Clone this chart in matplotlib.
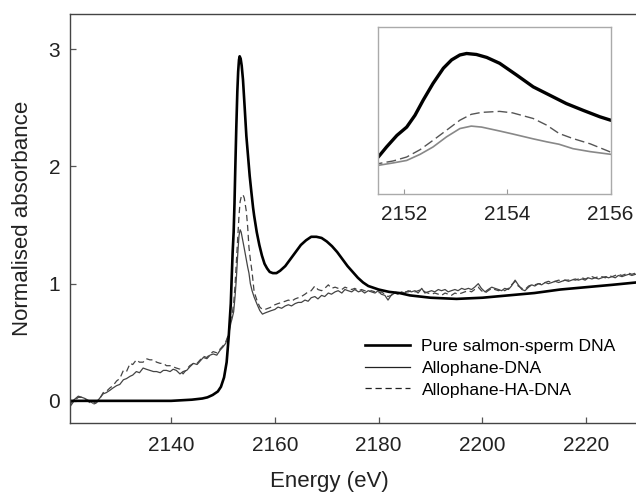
import matplotlib
matplotlib.use("Agg")
import matplotlib.pyplot as plt

plt.rcParams["font.family"] = ["Liberation Sans", "DejaVu Sans"]

# Pure salmon-sperm DNA (smooth curve)
dna_energy = [2120.5, 2130, 2140, 2144, 2146, 2147, 2148, 2149, 2149.6, 2150.2,
              2150.7, 2151.1,
              2151.5, 2151.66, 2151.86, 2152.05, 2152.21, 2152.37, 2152.56, 2152.76,
              2152.92, 2153.08, 2153.21, 2153.4, 2153.6, 2153.85, 2154.18, 2154.5,
              2154.82, 2155.14, 2155.47, 2155.79, 2156.0,
              2156.5, 2157.0, 2157.5, 2158.0, 2158.5, 2159.0, 2159.6, 2160.3,
              2161.0, 2162.0, 2163.0, 2164.0, 2165.0, 2166.0, 2167.0, 2168.0,
              2169.0, 2170.0, 2171.0, 2172.0, 2173.0, 2174.0, 2175.0, 2176.0,
              2177.0, 2178.0, 2180.0, 2182.0, 2184.0, 2186.0, 2190.0, 2195.0,
              2200.0, 2205.0, 2210.0, 2215.0, 2220.0, 2225.0, 2229.6]
dna_abs = [0.0, 0.0, 0.0, 0.01, 0.02, 0.03, 0.05, 0.08, 0.12, 0.2,
           0.33, 0.55,
           0.83, 1.035, 1.27, 1.44, 1.68, 1.99, 2.33, 2.64,
           2.81, 2.91, 2.94, 2.92, 2.86, 2.74, 2.50, 2.26,
           2.09, 1.92, 1.78, 1.65, 1.58,
           1.44, 1.33, 1.24, 1.17, 1.13, 1.10, 1.09, 1.09,
           1.11, 1.15, 1.21, 1.27, 1.33, 1.37, 1.40, 1.40,
           1.39, 1.36, 1.32, 1.27, 1.21, 1.15, 1.10, 1.05,
           1.01, 0.98, 0.95, 0.93, 0.92, 0.90, 0.88, 0.87,
           0.88, 0.90, 0.92, 0.95, 0.97, 0.99, 1.01]

# Allophane samples (noisy curves, shared energy grid)
allo_energy = [
    2120.5, 2121.3, 2122.1, 2122.8, 2123.4, 2124.2, 2124.9, 2125.5, 2126.0, 2126.9,
    2127.5, 2128.2, 2128.8, 2129.5, 2130.1, 2130.8, 2131.4, 2132.1, 2132.6, 2133.3,
    2133.9, 2134.6, 2135.2, 2135.9, 2136.6, 2137.2, 2137.9, 2138.5, 2139.1, 2139.8,
    2140.4, 2141.0, 2141.7, 2142.3, 2143.0, 2143.6, 2144.3, 2145.0, 2145.6, 2146.2,
    2146.9, 2147.5, 2148.1, 2148.8, 2149.4, 2150.0, 2150.5, 2151.0,
    2151.5, 2151.79, 2152.05, 2152.31, 2152.56, 2152.82, 2153.08, 2153.3, 2153.5,
    2153.85, 2154.1, 2154.5, 2154.76, 2155.0, 2155.27, 2155.6, 2156.0,
    2156.6, 2157.1, 2157.6, 2158.1,
    2158.7, 2159.3, 2160.0, 2160.6, 2161.3, 2162.0, 2162.6, 2163.2, 2163.9, 2164.5,
    2165.1, 2165.8, 2166.4, 2167.0, 2167.7, 2168.3, 2169.0, 2169.6, 2170.3, 2170.9,
    2171.6, 2172.2, 2172.9, 2173.5, 2174.1, 2174.8, 2175.4, 2176.1, 2176.7, 2177.3,
    2178.0, 2178.6, 2179.3, 2179.9, 2180.5, 2181.2, 2181.8, 2182.4, 2183.1, 2183.7,
    2184.4, 2185.0, 2185.7, 2186.3, 2187.0, 2187.6, 2188.3, 2188.9, 2189.5, 2190.2,
    2190.8, 2191.5, 2192.1, 2192.8, 2193.4, 2194.0, 2194.7, 2195.3, 2196.0, 2196.6,
    2197.3, 2197.9, 2198.5, 2199.2, 2199.8, 2200.5, 2201.1, 2201.8, 2202.4, 2203.1,
    2203.7, 2204.3, 2205.0, 2205.6, 2206.3, 2206.9, 2207.6, 2208.2, 2208.9, 2209.5,
    2210.1, 2210.8, 2211.4, 2212.1, 2212.7, 2213.4, 2214.0, 2214.7, 2215.3, 2215.9,
    2216.6, 2217.2, 2217.9, 2218.5, 2219.2, 2219.8, 2220.4, 2221.1, 2221.7, 2222.4,
    2223.0, 2223.7, 2224.3, 2225.0, 2225.6, 2226.2, 2226.9, 2227.5, 2228.2, 2228.8,
    2229.5]
allo_dna = [
    -0.03, 0.01, 0.04, 0.03, 0.02, 0.00, -0.02, -0.01, 0.01, 0.06,
    0.07, 0.09, 0.11, 0.13, 0.14, 0.18, 0.19, 0.21, 0.22, 0.25,
    0.24, 0.28, 0.27, 0.26, 0.25, 0.25, 0.24, 0.26, 0.26, 0.25,
    0.27, 0.26, 0.23, 0.25, 0.26, 0.29, 0.32, 0.31, 0.34, 0.37,
    0.36, 0.39, 0.40, 0.39, 0.43, 0.46, 0.49, 0.55,
    0.66, 0.71, 0.76, 0.885, 1.035, 1.24, 1.41, 1.46, 1.44,
    1.36, 1.30, 1.20, 1.14, 1.09, 1.00, 0.94, 0.885,
    0.82, 0.77, 0.74, 0.75,
    0.76, 0.77, 0.78, 0.80, 0.79, 0.81, 0.82, 0.81, 0.83, 0.84,
    0.84, 0.86, 0.85, 0.88, 0.89, 0.87, 0.90, 0.89, 0.92, 0.91,
    0.93, 0.94, 0.92, 0.95, 0.94, 0.93, 0.95, 0.93, 0.94, 0.92,
    0.94, 0.93, 0.92, 0.94, 0.91, 0.90, 0.86, 0.90, 0.92, 0.91,
    0.93, 0.92, 0.94, 0.93, 0.94, 0.92, 0.96, 0.92, 0.93, 0.94,
    0.93, 0.95, 0.94, 0.95, 0.93, 0.94, 0.95, 0.94, 0.96, 0.95,
    0.96, 0.95, 0.97, 1.00, 0.96, 0.93, 0.95, 0.97, 0.96, 0.95,
    0.94, 0.96, 0.95, 0.98, 1.03, 0.99, 0.95, 0.94, 0.97, 0.99,
    0.98, 1.00, 0.99, 1.01, 1.00, 1.01, 1.02, 1.01, 1.02, 1.03,
    1.02, 1.03, 1.04, 1.03, 1.04, 1.03, 1.05, 1.04, 1.05, 1.04,
    1.05, 1.06, 1.05, 1.06, 1.05, 1.07, 1.06, 1.07, 1.08, 1.07,
    1.08]
allo_ha_dna = [
    -0.05, 0.00, 0.03, 0.03, 0.01, -0.01, -0.03, -0.02, 0.00, 0.07,
    0.08, 0.11, 0.13, 0.17, 0.19, 0.26, 0.25, 0.32, 0.31, 0.35,
    0.33, 0.33, 0.36, 0.35, 0.35, 0.33, 0.32, 0.32, 0.30, 0.30,
    0.29, 0.28, 0.27, 0.23, 0.27, 0.30, 0.32, 0.32, 0.35, 0.38,
    0.37, 0.40, 0.42, 0.41, 0.44, 0.47, 0.50, 0.56,
    0.695, 0.75, 0.83, 0.98, 1.17, 1.375, 1.58, 1.70, 1.74,
    1.76, 1.73, 1.615, 1.48, 1.31, 1.206, 1.10, 0.93,
    0.85, 0.80, 0.78, 0.78,
    0.79, 0.80, 0.82, 0.83, 0.84, 0.85, 0.86, 0.85, 0.87, 0.88,
    0.89, 0.91, 0.93, 0.94, 0.98, 0.95, 0.94, 0.96, 0.99, 0.96,
    0.97, 0.96, 0.95, 0.97, 0.96, 0.95, 0.96, 0.94, 0.95, 0.94,
    0.93, 0.94, 0.93, 0.92, 0.93, 0.91, 0.89, 0.90, 0.93, 0.92,
    0.92, 0.93, 0.93, 0.94, 0.93, 0.94, 0.95, 0.93, 0.92, 0.91,
    0.92, 0.91, 0.90, 0.92, 0.91, 0.90, 0.92, 0.91, 0.92, 0.93,
    0.94, 0.93, 0.95, 0.97, 0.94, 0.92, 0.94, 0.96, 0.95, 0.94,
    0.95, 0.94, 0.96, 0.99, 1.02, 0.98, 0.96, 0.95, 0.98, 0.99,
    0.99, 1.00, 1.00, 1.01, 1.02, 1.01, 1.02, 1.03, 1.02, 1.03,
    1.03, 1.04, 1.03, 1.04, 1.05, 1.04, 1.05, 1.06, 1.05, 1.06,
    1.06, 1.05, 1.07, 1.06, 1.07, 1.08, 1.07, 1.08, 1.09, 1.08,
    1.09]

x_ticks = [2140, 2160, 2180, 2200, 2220]
y_ticks = [0, 1, 2, 3]
inset_ticks = [2152, 2154, 2156]

fig = plt.figure(figsize=(6.36, 4.92), dpi=100)
ax = fig.add_axes([0.110, 0.140, 0.890, 0.8313])

ax.plot(allo_energy, allo_dna, color="#444444", lw=0.9)
ax.plot(allo_energy, allo_ha_dna, color="#444444", lw=0.9, dashes=(5, 3))
ax.plot(dna_energy, dna_abs, color="black", lw=1.9)

# legend proxies in reference order
h1, = ax.plot([], [], color="black", lw=1.9)
h2, = ax.plot([], [], color="#222222", lw=0.9)
h3, = ax.plot([], [], color="#222222", lw=0.9, dashes=(5, 3))
ax.legend([h1, h2, h3], ["Pure salmon-sperm DNA", "Allophane-DNA", "Allophane-HA-DNA"],
          loc="lower right", bbox_to_anchor=(0.992, 0.024), frameon=False,
          fontsize=12.6, handlelength=2.6, handletextpad=0.65, labelspacing=0.36)

ax.set_xlim(2120.5, 2229.6)
ax.set_ylim(-0.19, 3.30)
ax.set_xticks(x_ticks)
ax.set_yticks(y_ticks)
ax.tick_params(direction="in", length=4.5, width=0.9, color="#555555",
               labelsize=15, labelcolor="#222222")
ax.tick_params(axis="y", pad=7)
ax.tick_params(axis="x", pad=9)
for side in ["left", "bottom", "top"]:
    ax.spines[side].set_color("#444444")
    ax.spines[side].set_linewidth(1.0)
ax.spines["right"].set_visible(False)
ax.set_xlabel("Energy (eV)", fontsize=16, color="#222222")
ax.set_ylabel("Normalised absorbance", fontsize=16, color="#222222")
ax.xaxis.set_label_coords(0.458, -0.118)
ax.yaxis.set_label_coords(-0.065, 0.5)

# inset zoom on the white line
axin = fig.add_axes([0.5948, 0.6051, 0.3654, 0.340])
axin.plot(allo_energy, allo_dna, color="#888888", lw=1.2)
axin.plot(allo_energy, allo_ha_dna, color="#555555", lw=1.0, dashes=(7, 3))
axin.plot(dna_energy, dna_abs, color="black", lw=2.4)
axin.set_xlim(2151.5, 2156)
axin.set_ylim(0.07, 3.48)
axin.set_xticks(inset_ticks)
axin.set_yticks([])
axin.tick_params(axis="x", direction="in", length=3.5, color="#999999",
                 labelsize=15, labelcolor="#222222", pad=8)
for side in axin.spines.values():
    side.set_color("#aaaaaa")
    side.set_linewidth(1.0)

fig.savefig("out.png", dpi=100)
